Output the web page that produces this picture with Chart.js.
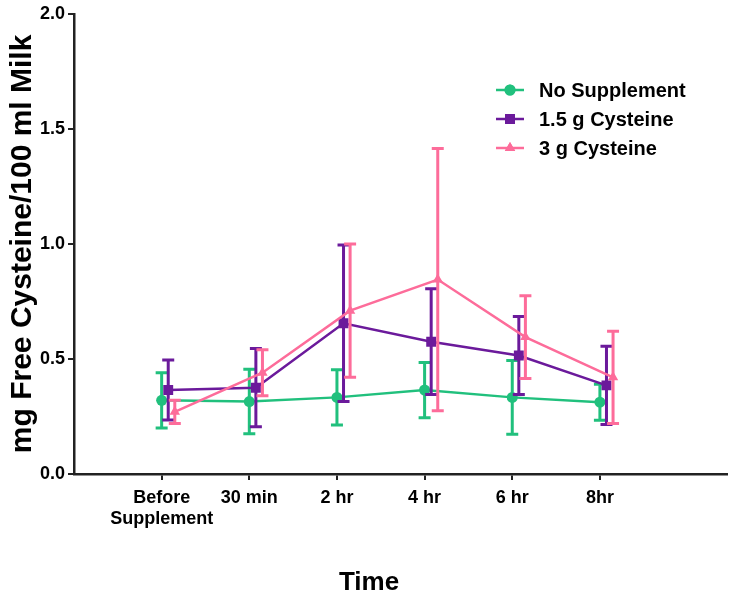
<!DOCTYPE html>
<html>
<head>
<meta charset="utf-8">
<script src="https://cdn.jsdelivr.net/npm/chart.js@4.4.1/dist/chart.umd.min.js"></script>
<style>
  html, body { margin: 0; padding: 0; background: #fff; }
  #wrap { width: 734px; height: 596px; }
</style>
</head>
<body>
<div id="wrap"><canvas id="cysChart" width="734" height="596"></canvas></div>
<script>
// time points on the x axis
let timeLabels = [['Before', 'Supplement'], '30 min', '2 hr', '4 hr', '6 hr', '8hr'];

// means and error (half range of the bars), mg / 100 ml milk
let noSuppMean = [0.32, 0.315, 0.333, 0.365, 0.333, 0.312];
let noSuppErr  = [0.12, 0.14, 0.12, 0.12, 0.16, 0.078];

let cys15Mean = [0.365, 0.375, 0.655, 0.575, 0.515, 0.385];
let cys15Err  = [0.13, 0.17, 0.34, 0.23, 0.17, 0.17];

let cys3Mean = [0.27, 0.44, 0.71, 0.845, 0.595, 0.42];
let cys3Err  = [0.05, 0.10, 0.29, 0.57, 0.18, 0.20];

let seriesNames = ['No Supplement', '1.5 g Cysteine', '3 g Cysteine'];

const FONT = '"Liberation Sans", Arial, Helvetica, sans-serif';
const GREEN = '#21c07d';
const PURPLE = '#6b1a9b';
const PINK = '#fd6c9a';

// small sideways shift so the bars don't sit on top of each other
function toPoints(means, errs, shift) {
  return means.map((m, i) => ({ x: i + shift, y: m, err: errs[i] }));
}

// error bars are drawn before each dataset, so the markers sit on top
const errorBarPlugin = {
  id: 'errorBars',
  beforeDatasetDraw(chart, args) {
    let ds = chart.data.datasets[args.index];
    let meta = chart.getDatasetMeta(args.index);
    if (meta.hidden) return;
    let ctx = chart.ctx;
    let yScale = chart.scales.y;
    ctx.save();
    ctx.strokeStyle = ds.borderColor;
    ctx.lineWidth = 3;
    ctx.lineCap = 'butt';
    ds.data.forEach((p, i) => {
      let px = meta.data[i].x;
      let top = yScale.getPixelForValue(p.y + p.err);
      let bot = yScale.getPixelForValue(p.y - p.err);
      ctx.beginPath();
      ctx.moveTo(px, top);
      ctx.lineTo(px, bot);
      ctx.moveTo(px - 6, top);
      ctx.lineTo(px + 6, top);
      ctx.moveTo(px - 6, bot);
      ctx.lineTo(px + 6, bot);
      ctx.stroke();
    });
    ctx.restore();
  }
};

// legend with a short line and the marker in the middle, plus the x title
const extrasPlugin = {
  id: 'extras',
  afterDraw(chart) {
    let ctx = chart.ctx;
    ctx.save();
    chart.data.datasets.forEach((ds, i) => {
      let y = 90 + i * 29;
      ctx.strokeStyle = ds.borderColor;
      ctx.lineWidth = 2.5;
      ctx.beginPath();
      ctx.moveTo(496, y);
      ctx.lineTo(524, y);
      ctx.stroke();
      ctx.fillStyle = ds.borderColor;
      Chart.helpers.drawPoint(ctx, {
        pointStyle: ds.pointStyle,
        radius: ds.pointRadius,
        rotation: 0,
        borderWidth: 0
      }, 510, y);
      ctx.fill();
      ctx.fillStyle = '#000';
      ctx.font = 'bold 20px ' + FONT;
      ctx.textAlign = 'left';
      ctx.textBaseline = 'middle';
      ctx.fillText(ds.label, 539, y + 1);
    });
    ctx.font = 'bold 26px ' + FONT;
    ctx.textAlign = 'center';
    ctx.textBaseline = 'middle';
    ctx.fillStyle = '#000';
    ctx.fillText('Time', 369, 583);
    ctx.restore();
  }
};

let ctx = document.getElementById('cysChart').getContext('2d');

let chart = new Chart(ctx, {
  type: 'line',
  data: {
    datasets: [{
      label: seriesNames[0],
      data: toPoints(noSuppMean, noSuppErr, 0),
      borderColor: GREEN,
      backgroundColor: GREEN,
      borderWidth: 2.5,
      pointStyle: 'circle',
      pointRadius: 5.5,
      pointBorderWidth: 0,
      order: 3
    }, {
      label: seriesNames[1],
      data: toPoints(cys15Mean, cys15Err, 0.075),
      borderColor: PURPLE,
      backgroundColor: PURPLE,
      borderWidth: 2.5,
      pointStyle: 'rect',
      pointRadius: 7,
      pointBorderWidth: 0,
      order: 2
    }, {
      label: seriesNames[2],
      data: toPoints(cys3Mean, cys3Err, 0.15),
      borderColor: PINK,
      backgroundColor: PINK,
      borderWidth: 2.5,
      pointStyle: 'triangle',
      pointRadius: 6,
      pointBorderWidth: 0,
      order: 1
    }]
  },
  options: {
    responsive: false,
    animation: false,
    layout: { padding: { top: 10, right: 0, left: 0, bottom: 0 } },
    plugins: {
      legend: { display: false },
      tooltip: { enabled: false }
    },
    scales: {
      x: {
        type: 'linear',
        min: -1,
        max: 6.45,
        afterBuildTicks: (scale) => {
          scale.ticks = timeLabels.map((t, i) => ({ value: i }));
        },
        afterFit: (scale) => { scale.height = 122; },
        ticks: {
          color: '#000',
          padding: 7,
          maxRotation: 0,
          autoSkip: false,
          font: { family: FONT, size: 18, weight: 'bold' },
          callback: (v) => timeLabels[v]
        },
        grid: { drawOnChartArea: false, drawTicks: true, tickLength: 6, color: '#222', lineWidth: 2 },
        border: { display: true, color: '#222', width: 2.5 }
      },
      y: {
        min: 0,
        max: 2,
        afterFit: (scale) => { scale.width = 74; },
        ticks: {
          stepSize: 0.5,
          color: '#000',
          padding: 3,
          font: { family: FONT, size: 18, weight: 'bold' },
          callback: (v) => v.toFixed(1)
        },
        grid: { drawOnChartArea: false, drawTicks: true, tickLength: 6, color: '#222', lineWidth: 2 },
        border: { display: true, color: '#222', width: 2.5 },
        title: {
          display: true,
          text: 'mg Free Cysteine/100 ml Milk',
          color: '#000',
          padding: { top: 5, bottom: 0 },
          font: { family: FONT, size: 30, weight: 'bold' }
        }
      }
    }
  },
  plugins: [errorBarPlugin, extrasPlugin]
});
</script>
</body>
</html>
